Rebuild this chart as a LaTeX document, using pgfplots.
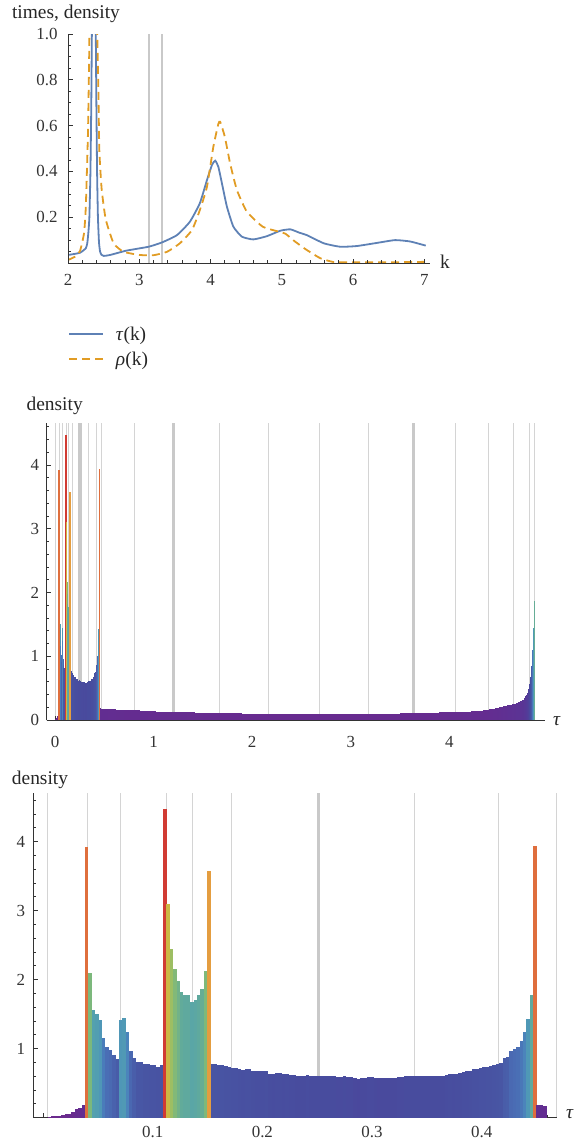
\documentclass[border=0pt]{standalone}
\usepackage{fontspec}
\setmainfont{Liberation Serif}
\usepackage{pgfplots}
\usepackage{pgfplotstable}
\pgfplotsset{compat=1.18}

\definecolor{mblue}{rgb}{0.368,0.507,0.710}
\definecolor{morange}{rgb}{0.881,0.611,0.142}
\definecolor{axgray}{gray}{0.2}
\definecolor{gridthin}{gray}{0.83}
\definecolor{gridthick}{gray}{0.79}

\tikzset{lab/.style={inner sep=0pt, font=\fontsize{19.5}{22}\selectfont, text=black!85}}

\pgfdeclareplotmark{vbar}{%
  \pgfpathrectanglecorners
    {\pgfplotspointaxisdirectionxy{-\halfw}{0}}%
    {\pgfplotspointaxisdirectionxy{\halfw}{-\rawy}}%
  \pgfusepathqfill}

% bottom histogram: bin index k (bin width 0.003095, centre 0.03984+0.003095k), density v
\pgfplotstableread{
k v
-11 0.015
-10 0.02
-9 0.025
-8 0.03
-7 0.04
-6 0.05
-5 0.06
-4 0.08
-3 0.13
-2 0.14
-1 0.18
0 3.93
1 2.10
2 1.56
3 1.51
4 1.42
5 1.16
6 1.02
7 0.98
8 0.91
9 0.85
10 1.42
11 1.45
12 1.24
13 0.96
14 0.87
15 0.81
16 0.81
17 0.78
18 0.78
19 0.77
20 0.76
21 0.74
22 0.76
23 4.47
24 3.10
25 2.44
26 2.16
27 1.98
28 1.82
29 1.78
30 1.78
31 1.68
32 1.71
33 1.78
34 1.87
35 2.13
36 3.57
37 0.78
38 0.78
39 0.77
40 0.77
41 0.75
42 0.74
43 0.72
44 0.72
45 0.71
46 0.69
47 0.70
48 0.70
49 0.68
50 0.67
51 0.67
52 0.67
53 0.68
54 0.64
55 0.63
56 0.65
57 0.65
58 0.63
59 0.64
60 0.62
61 0.62
62 0.61
63 0.61
64 0.61
65 0.62
66 0.60
67 0.60
68 0.60
69 0.61
70 0.61
71 0.61
72 0.60
73 0.60
74 0.59
75 0.59
76 0.60
77 0.59
78 0.59
79 0.57
80 0.56
81 0.58
82 0.58
83 0.59
84 0.59
85 0.58
86 0.57
87 0.58
88 0.58
89 0.58
90 0.58
91 0.58
92 0.59
93 0.59
94 0.60
95 0.61
96 0.61
97 0.61
98 0.61
99 0.61
100 0.60
101 0.61
102 0.61
103 0.61
104 0.60
105 0.61
106 0.62
107 0.64
108 0.63
109 0.64
110 0.65
111 0.66
112 0.67
113 0.68
114 0.70
115 0.71
116 0.72
117 0.73
118 0.74
119 0.75
120 0.76
121 0.78
122 0.80
123 0.86
124 0.88
125 0.97
126 1.00
127 1.03
128 1.11
129 1.24
130 1.43
131 1.78
132 3.94
133 0.19
134 0.19
135 0.17
}\histA

% middle histogram beyond 0.46: centre x, density v, half width hw
\pgfplotstableread{
x v hw
0.50 0.174 0.041
0.58 0.168 0.041
0.66 0.162 0.041
0.74 0.157 0.041
0.82 0.150 0.041
0.90 0.145 0.041
0.98 0.139 0.041
1.06 0.133 0.041
1.14 0.129 0.041
1.22 0.125 0.041
1.30 0.122 0.041
1.38 0.118 0.041
1.46 0.115 0.041
1.54 0.112 0.041
1.62 0.110 0.041
1.70 0.108 0.041
1.78 0.106 0.041
1.86 0.104 0.041
1.94 0.102 0.041
2.02 0.101 0.041
2.10 0.100 0.041
2.18 0.099 0.041
2.26 0.098 0.041
2.34 0.097 0.041
2.42 0.096 0.041
2.50 0.096 0.041
2.58 0.095 0.041
2.66 0.095 0.041
2.74 0.095 0.041
2.82 0.095 0.041
2.90 0.095 0.041
2.98 0.096 0.041
3.06 0.096 0.041
3.14 0.097 0.041
3.22 0.098 0.041
3.30 0.099 0.041
3.38 0.100 0.041
3.46 0.102 0.041
3.54 0.104 0.041
3.62 0.106 0.041
3.70 0.108 0.041
3.78 0.111 0.041
3.86 0.114 0.041
3.94 0.118 0.041
4.02 0.122 0.041
4.10 0.127 0.041
4.18 0.133 0.041
4.26 0.140 0.041
4.31 0.146 0.0105
4.33 0.149 0.0105
4.35 0.153 0.0105
4.37 0.157 0.0105
4.39 0.161 0.0105
4.41 0.166 0.0105
4.43 0.171 0.0105
4.45 0.177 0.0105
4.47 0.183 0.0105
4.49 0.190 0.0105
4.51 0.197 0.0105
4.53 0.205 0.0105
4.55 0.213 0.0105
4.57 0.221 0.0105
4.59 0.229 0.0105
4.61 0.236 0.0105
4.63 0.243 0.0105
4.65 0.250 0.0105
4.67 0.258 0.0105
4.69 0.268 0.0105
4.71 0.280 0.0105
4.73 0.295 0.0105
4.75 0.315 0.0105
4.765 0.34 0.0053
4.775 0.37 0.0053
4.785 0.40 0.0053
4.795 0.43 0.0053
4.805 0.48 0.0053
4.815 0.56 0.0053
4.825 0.68 0.0053
4.835 0.85 0.0053
4.845 1.10 0.0053
4.855 1.45 0.0053
4.865 1.86 0.0053
}\histB

\pgfplotstableread{
x y
2.00 0.035
2.10 0.040
2.17 0.045
2.22 0.056
2.25 0.064
2.27 0.085
2.285 0.13
2.30 0.20
2.315 0.40
2.327 0.70
2.335 1.00
2.35 1.50
2.362 1.70
2.375 1.50
2.39 1.00
2.398 0.70
2.408 0.40
2.42 0.20
2.435 0.09
2.45 0.05
2.47 0.036
2.50 0.031
2.59 0.035
2.82 0.054
3.13 0.071
3.32 0.090
3.53 0.122
3.71 0.180
3.85 0.261
3.95 0.362
4.02 0.428
4.065 0.447
4.11 0.420
4.17 0.333
4.23 0.246
4.32 0.159
4.44 0.115
4.60 0.103
4.79 0.117
4.98 0.141
5.12 0.147
5.25 0.132
5.35 0.122
5.59 0.086
5.82 0.071
6.05 0.074
6.34 0.088
6.59 0.100
6.80 0.094
7.02 0.076
}\tauk

\pgfplotstableread{
x y
2.00 0.013
2.10 0.028
2.17 0.054
2.225 0.130
2.25 0.246
2.28 0.566
2.295 0.857
2.305 1.10
2.33 1.40
2.355 1.50
2.38 1.40
2.40 1.12
2.41 1.00
2.425 0.78
2.44 0.49
2.473 0.32
2.53 0.19
2.64 0.086
2.78 0.049
3.01 0.035
3.20 0.034
3.39 0.049
3.57 0.086
3.74 0.144
3.85 0.231
3.95 0.333
4.04 0.508
4.11 0.607
4.135 0.617
4.20 0.552
4.275 0.435
4.37 0.319
4.51 0.224
4.73 0.159
4.92 0.140
5.05 0.128
5.164 0.099
5.25 0.079
5.35 0.057
5.54 0.021
5.73 0.004
6.00 0.003
6.50 0.003
7.00 0.005
}\rhok

\pgfplotsset{
  colormap={drb}{rgb255(0pt)=(108,42,140); rgb255(3pt)=(100,44,144);
    rgb255(8pt)=(84,58,152); rgb255(12pt)=(72,76,158); rgb255(16pt)=(72,86,164);
    rgb255(20pt)=(74,108,180); rgb255(24pt)=(74,128,188); rgb255(28pt)=(78,150,184);
    rgb255(32pt)=(86,164,172); rgb255(36pt)=(96,170,156); rgb255(42pt)=(124,184,124);
    rgb255(49pt)=(158,190,98); rgb255(62pt)=(204,184,68); rgb255(71pt)=(228,160,64);
    rgb255(78pt)=(224,114,62); rgb255(90pt)=(208,56,50)},
  mathax/.style={
    scale only axis, anchor=south west, axis on top,
    axis lines=left, axis line style={-, axgray, line width=0.9bp},
    tick align=inside, tick style={axgray, line width=0.9bp},
    major tick length=4.5bp, minor tick length=2.6bp,
    tick label style={font=\fontsize{17}{19}\selectfont, text=black!80},
    /pgf/number format/assume math mode=true,
    point meta min=0, point meta max=4.5,
  },
  colbars/.style={
    scatter, only marks, mark=vbar, point meta=explicit,
    scatter/use mapped color={draw=none, fill=mapped color},
    visualization depends on={y \as \rawy},
    visualization depends on={#1 \as \halfw},
  },
  colbarsw/.style={
    scatter, only marks, mark=vbar, point meta=explicit,
    scatter/use mapped color={draw=none, fill=mapped color},
    visualization depends on={y \as \rawy},
    visualization depends on={\thisrow{hw} \as \halfw},
  },
  gthin/.style={ycomb, no marks, forget plot, gridthin, line width=0.9bp},
  gthick/.style={ycomb, no marks, forget plot, gridthick, line width=3.6bp},
}

\begin{document}
\begin{tikzpicture}
\path[use as bounding box] (0,0) rectangle (575bp,-1147bp);

% ---------------- top ----------------
\begin{axis}[mathax, at={(68bp,-263bp)}, width=362bp, height=229bp,
  xmin=2, xmax=7.08, ymin=0, ymax=1,
  xtick={2,3,4,5,6,7}, minor xtick={2.2,2.4,...,7.0},
  ytick={0,0.2,0.4,0.6,0.8,1}, yticklabels={,0.2,0.4,0.6,0.8,1.0},
  minor ytick={0.05,0.1,...,0.95},
  yticklabel style={xshift=-7bp}, xticklabel style={yshift=-8bp},
  legend style={at={(axis description cs:0,-0.268)}, anchor=north west,
    draw=none, fill=none, inner sep=0pt, row sep=6bp,
    font=\fontsize{19.5}{22}\selectfont, legend cell align=left,
    nodes={inner sep=2bp, text=black!85}},
  legend image code/.code={\draw[#1] (0bp,0bp) -- (34bp,0bp);},
  xlabel={k}, ylabel={times, density},
  every axis x label/.style={at={(axis description cs:1,0)}, anchor=base west,
    lab, xshift=10bp, yshift=-5bp},
  every axis y label/.style={at={(axis description cs:0,1)}, anchor=base,
    lab, xshift=-2bp, yshift=15.7bp},
]
\addplot[gthick, line width=1.6bp] coordinates {(3.133,1) (3.32,1)};
\addplot[mblue, line width=1.8bp, smooth, tension=0.3] table[x=x,y=y] {\tauk};
\addlegendentry{\hspace{10bp}\textit{τ}(k)}
\addplot[morange, line width=1.8bp, dash pattern=on 8bp off 5bp, smooth, tension=0.3] table[x=x,y=y] {\rhok};
\addlegendentry{\hspace{10bp}\textit{ρ}(k)}
\end{axis}

% ---------------- middle ----------------
\begin{axis}[mathax, at={(46.7bp,-720bp)}, width=498.3bp, height=297bp,
  xmin=-0.085, xmax=4.97, ymin=0, ymax=4.66,
  xtick={0,1,2,3,4}, minor xtick={0.2,0.4,...,4.8},
  ytick={0,1,2,3,4}, minor ytick={0.2,0.4,...,4.6},
  yticklabel style={xshift=-4bp}, xticklabel style={yshift=-13bp},
  xlabel={\textit{τ}}, ylabel={density},
  every axis x label/.style={at={(axis description cs:1,0)}, anchor=base west,
    lab, xshift=8bp, yshift=-5bp},
  every axis y label/.style={at={(axis description cs:0,1)}, anchor=base,
    lab, xshift=8bp, yshift=13bp},
]
\addplot[gthin] coordinates {(0.004,4.66) (0.0404,4.66) (0.0705,4.66) (0.1128,4.66) (0.1365,4.66) (0.172,4.66) (0.338,4.66) (0.415,4.66) (0.468,4.66) (0.805,4.66) (1.667,4.66) (2.164,4.66) (2.678,4.66) (3.178,4.66) (4.057,4.66) (4.395,4.66) (4.65,4.66) (4.81,4.66) (4.861,4.66)};
\addplot[gthick] coordinates {(0.251,4.66) (1.2,4.66) (3.634,4.66)};
\addplot[colbars=0.0024] table[x expr=0.03984+0.003095*\thisrow{k}, y=v, meta=v] {\histA};
\addplot[colbars=0.006, restrict y to domain=2.9:5] table[x expr=0.03984+0.003095*\thisrow{k}, y=v, meta=v] {\histA};
\addplot[colbarsw] table[x=x, y=v, meta=v] {\histB};
\addplot[gthin, opacity=0.3] coordinates {(0.004,4.66) (0.0404,4.66) (0.0705,4.66) (0.1128,4.66) (0.1365,4.66) (0.172,4.66) (0.338,4.66) (0.415,4.66) (0.468,4.66) (0.805,4.66) (1.667,4.66) (2.164,4.66) (2.678,4.66) (3.178,4.66) (4.057,4.66) (4.395,4.66) (4.65,4.66) (4.81,4.66) (4.861,4.66)};
\addplot[gthick, opacity=0.3] coordinates {(0.251,4.66) (1.2,4.66) (3.634,4.66)};
\end{axis}

% ---------------- bottom ----------------
\begin{axis}[mathax, at={(33bp,-1117.7bp)}, width=524bp, height=324.7bp,
  xmin=-0.0091, xmax=0.4686, ymin=0, ymax=4.706,
  xtick={0,0.1,0.2,0.3,0.4}, xticklabels={,0.1,0.2,0.3,0.4},
  minor xtick={0.02,0.04,...,0.46},
  ytick={0,1,2,3,4}, yticklabels={,1,2,3,4}, minor ytick={0.2,0.4,...,4.6},
  yticklabel style={xshift=-4.5bp}, xticklabel style={yshift=-5bp},
  xlabel={\textit{τ}}, ylabel={density},
  every axis x label/.style={at={(axis description cs:1,0)}, anchor=base west,
    lab, xshift=9bp, yshift=-1bp},
  every axis y label/.style={at={(axis description cs:0,1)}, anchor=base,
    lab, xshift=7bp, yshift=9bp},
]
\addplot[gthin] coordinates {(0.0043,4.706) (0.0404,4.706) (0.0705,4.706) (0.1128,4.706) (0.1365,4.706) (0.172,4.706) (0.3382,4.706) (0.415,4.706) (0.4683,4.706)};
\addplot[gthick] coordinates {(0.251,4.706)};
\addplot[colbars=0.00158] table[x expr=0.03984+0.003095*\thisrow{k}, y=v, meta=v] {\histA};
\addplot[gthin, opacity=0.3] coordinates {(0.0043,4.706) (0.0404,4.706) (0.0705,4.706) (0.1128,4.706) (0.1365,4.706) (0.172,4.706) (0.3382,4.706) (0.415,4.706) (0.4683,4.706)};
\addplot[gthick, opacity=0.3] coordinates {(0.251,4.706)};
\end{axis}
\end{tikzpicture}
\end{document}
